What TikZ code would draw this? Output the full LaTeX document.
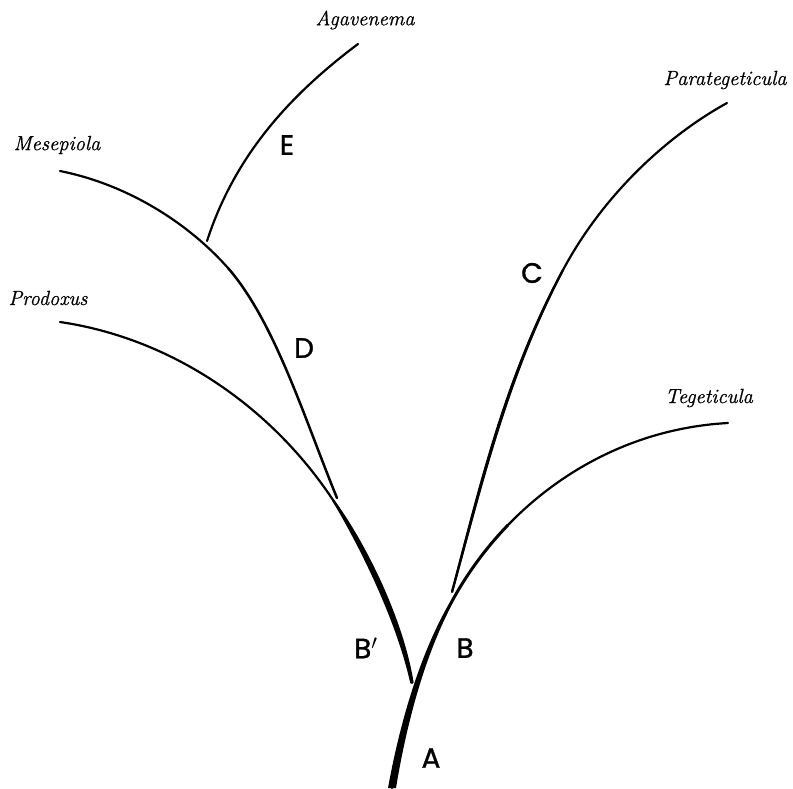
\documentclass[tikz,border=0pt]{standalone}
\usepackage{fontspec}
\newfontfamily\lab{Poppins}[FakeBold=1.2]
\newfontfamily\taxfont{Latin Modern Roman}[FakeBold=0.8]
\begin{document}
\begin{tikzpicture}[x=1pt,y=-1pt,
  branch/.style={line width=2.2pt, line cap=round},
  taper/.style={fill=black, draw=none},
  taxon/.style={font=\taxfont\itshape\fontsize{20.5}{22}\selectfont, inner sep=0pt},
  letter/.style={font=\lab\fontsize{28}{30}\selectfont, inner sep=0pt}]
\useasboundingbox (0,0) rectangle (793,788);
% end points and junctions
\coordinate (root) at (392,788);
\coordinate (jB) at (450,605);
\coordinate (bmid) at (507.9,525.1);
\coordinate (teg) at (728,423);
\coordinate (pro) at (60,322);
\coordinate (jP) at (333,500);
\coordinate (bend) at (412,683);
\coordinate (mes) at (60,171);
\coordinate (jM) at (228,268);
\coordinate (dend) at (337,498);
\coordinate (eb) at (207,241);
\coordinate (aga) at (358,44);
\coordinate (cb) at (452,592);
\coordinate (cm) at (563,270);
\coordinate (par) at (727,103);
% A + B -> Tegeticula
\draw[branch] (root) .. controls (402,730) and (420,660) .. (jB);
\draw[branch, line width=3pt] (jB) .. controls (465,576.5) and (484.5,549.35) .. (bmid);
\draw[branch] (bmid) .. controls (562.5,468.6) and (638.4,427.9) .. (teg);
\fill[taper] (388,788) .. controls (398.5,730) and (417.5,659) .. (448.7,604.3)
  -- (451.3,605.7) .. controls (422.5,661) and (405.5,730) .. (396,788) -- cycle;
% Prodoxus + B'
\draw[branch] (pro) .. controls (170,338) and (270,405) .. (jP)
  .. controls (363,545) and (400,620) .. (bend);
\fill[taper] (332.1,500.6) .. controls (359.7,546.2) and (396.7,621.2) .. (410.3,683.3)
  -- (413.7,682.7) .. controls (403.3,618.8) and (366.3,543.8) .. (333.9,499.4) -- cycle;
% Mesepiola + D
\draw[branch] (mes) .. controls (130,185) and (190,225) .. (jM);
\draw[branch, line width=2.5pt] (jM) .. controls (275,322) and (305,420) .. (dend);
% E -> Agavenema
\draw[branch] (eb) .. controls (235,155) and (290,95) .. (aga);
% C -> Parategeticula
\draw[branch] (cb) .. controls (481,485) and (506,377) .. (cm)
  .. controls (603,195) and (667,136) .. (par);
\fill[taper] (451,591.7) .. controls (479.3,484.5) and (504.3,376.5) .. (562,269.5)
  -- (564,270.5) .. controls (507.7,377.5) and (482.7,485.5) .. (453,592.3) -- cycle;
% taxon names
\node[taxon] (tAga) at (365,20) {Agavenema};
\node[taxon] (tMes) at (57,145) {Mesepiola};
\node[taxon] (tPro) at (48,298) {Prodoxus};
\node[taxon] (tPar) at (725,80) {Parategeticula};
\node[taxon] (tTeg) at (709,398) {Tegeticula};
% branch letters
\node[letter] (lE) at (287,145) {E};
\node[letter] (lD) at (304,348) {D};
\node[letter] (lC) at (532,273) {C};
\node[letter, anchor=west] (lBp) at (354,648) {B$^{\prime}$};
\node[letter] (lB) at (465,648) {B};
\node[letter] (lA) at (431,758) {A};
\end{tikzpicture}
\end{document}
